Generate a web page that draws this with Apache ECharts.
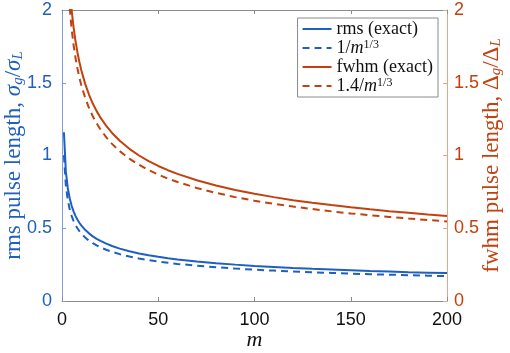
<!DOCTYPE html>
<html>
<head>
<meta charset="utf-8">
<script src="https://cdn.jsdelivr.net/npm/echarts@6/dist/echarts.min.js"></script>
<style>html,body{margin:0;padding:0;background:#fff}#c{width:510px;height:353px}</style>
</head>
<body>
<div id="c"></div>
<script>
var mValues = [1,2,3,4,5,6,7,8,9,10,12,14,16,18,20,23,26,30,35,40,45,50,55,60,70,80,90,100,110,120,130,140,150,160,170,180,190,200];
var rmsExact = [1.16,0.889,0.777,0.706,0.655,0.616,0.585,0.56,0.538,0.52,0.489,0.465,0.444,0.427,0.413,0.394,0.378,0.36,0.342,0.327,0.315,0.304,0.294,0.286,0.272,0.26,0.25,0.241,0.234,0.227,0.221,0.216,0.211,0.206,0.202,0.198,0.195,0.192];
var rmsApprox = [1.0,0.794,0.693,0.63,0.585,0.55,0.523,0.5,0.481,0.464,0.437,0.415,0.397,0.382,0.368,0.352,0.338,0.322,0.306,0.292,0.281,0.271,0.263,0.255,0.243,0.232,0.223,0.215,0.209,0.203,0.197,0.193,0.188,0.184,0.181,0.177,0.174,0.171];
var fwhmM = [4,5,6,7,8,9,10,12,14,16,18,20,23,26,30,35,40,45,50,55,60,70,80,90,100,110,120,130,140,150,160,170,180,190,200];
var fwhmExact = [2.155,2.0,1.882,1.788,1.71,1.644,1.588,1.494,1.419,1.357,1.305,1.26,1.203,1.155,1.101,1.046,1.0,0.961,0.928,0.899,0.874,0.83,0.794,0.763,0.737,0.714,0.693,0.675,0.659,0.644,0.63,0.617,0.606,0.595,0.585];
var fwhmApprox = [2.016,1.871,1.761,1.673,1.6,1.538,1.485,1.398,1.328,1.27,1.221,1.179,1.125,1.08,1.03,0.978,0.936,0.9,0.869,0.841,0.818,0.777,0.743,0.714,0.689,0.668,0.649,0.632,0.616,0.602,0.589,0.578,0.567,0.557,0.547];
var xTicks = [0,50,100,150,200];
var yTicks = [0,0.5,1,1.5,2];

var BLUE = '#1f5fbf', RED = '#c2410f';
function pairs(xs, ys){ return xs.map(function(x,i){return [x, ys[i]];}); }
var chart = echarts.init(document.getElementById('c'));
var serif = 'Liberation Serif';
var sans = 'Liberation Sans';
var TFS = 23;
chart.setOption({
  animation: false,
  grid: {left: 62, right: 63, top: 10, bottom: 52, show: false, containLabel: false, outerBoundsMode: 'none'},
  legend: {
    right: 72, top: 18,
    orient: 'vertical',
    backgroundColor: '#fff',
    borderColor: '#8a8a8a', borderWidth: 1,
    padding: [2, 5, 2, 4],
    itemWidth: 29, itemHeight: 14, itemGap: 1,
    itemStyle: {color: 'rgba(0,0,0,0)', borderWidth: 0, opacity: 0},
    textStyle: {fontFamily: serif, fontSize: 18, color: '#111', lineHeight: 16,
      rich: {
        t: {fontFamily: serif, fontSize: 18, color: '#111', lineHeight: 16},
        i: {fontFamily: serif, fontSize: 18, fontStyle: 'italic', color: '#111', lineHeight: 16},
        sup: {fontFamily: serif, fontSize: 12, color: '#111', lineHeight: 10, padding: [0,0,6,0]}
      }},
    formatter: function(n){
      if (n === 'inv') return '{t|1/}{i|m}{sup|1/3}';
      if (n === 'inv14') return '{t|1.4/}{i|m}{sup|1/3}';
      return '{t|' + n + '}';
    },
    data: ['rms (exact)', 'inv', 'fwhm (exact)', 'inv14']
  },
  xAxis: [{
    type: 'value', min: 0, max: 200, interval: 50,
    name: 'm', nameLocation: 'middle', nameGap: 28, nameMoveOverlap: false,
    nameTextStyle: {fontFamily: serif, fontStyle: 'italic', fontSize: 22, color: '#111'},
    axisLine: {show: true, onZero: false, lineStyle: {color: '#8c8c8c', width: 1}},
    axisTick: {show: true, inside: true, length: 4, lineStyle: {color: '#8c8c8c'}},
    axisLabel: {fontFamily: sans, fontSize: 18, color: '#111', margin: 10},
    splitLine: {show: false}
  }, {
    type: 'value', min: 0, max: 200, interval: 50, position: 'top',
    axisLine: {show: true, onZero: false, lineStyle: {color: '#8c8c8c', width: 1}},
    axisTick: {show: true, inside: true, length: 4, lineStyle: {color: '#8c8c8c'}},
    axisLabel: {show: false},
    splitLine: {show: false}
  }],
  yAxis: [{
    type: 'value', min: 0, max: 2, interval: 0.5, position: 'left',
    name: 'rms pulse length, {i|σ}{sub|g}{t|/}{i|σ}{sub|L}',
    nameLocation: 'middle', nameGap: 36, nameRotate: 90, nameMoveOverlap: false,
    nameTextStyle: {fontFamily: serif, fontSize: TFS, color: BLUE,
      rich: {
        t: {fontFamily: serif, fontSize: TFS, color: BLUE},
        i: {fontFamily: serif, fontSize: TFS, fontStyle: 'italic', color: BLUE},
        sub: {fontFamily: serif, fontSize: 15, fontStyle: 'italic', color: BLUE, padding: [9,0,0,0]}
      }},
    axisLine: {show: true, onZero: false, lineStyle: {color: '#7f9fd6', width: 1}},
    axisTick: {show: true, inside: true, length: 4, lineStyle: {color: '#7f9fd6'}},
    axisLabel: {fontFamily: sans, fontSize: 18, color: BLUE, margin: 10},
    splitLine: {show: false}
  }, {
    type: 'value', min: 0, max: 2, interval: 0.5, position: 'right',
    name: 'fwhm pulse length, {t|Δ}{sub|g}{t|/Δ}{sub|L}',
    nameLocation: 'middle', nameGap: 33, nameRotate: 90, nameMoveOverlap: false,
    nameTextStyle: {fontFamily: serif, fontSize: TFS, color: RED,
      rich: {
        t: {fontFamily: serif, fontSize: TFS, color: RED},
        i: {fontFamily: serif, fontSize: TFS, fontStyle: 'italic', color: RED},
        sub: {fontFamily: serif, fontSize: 15, fontStyle: 'italic', color: RED, padding: [9,0,0,0]}
      }},
    axisLine: {show: true, onZero: false, lineStyle: {color: '#e3a688', width: 1}},
    axisTick: {show: true, inside: true, length: 4, lineStyle: {color: '#e3a688'}},
    axisLabel: {fontFamily: sans, fontSize: 18, color: RED, margin: 7},
    splitLine: {show: false}
  }],
  series: [
    {name: 'rms (exact)', type: 'line', yAxisIndex: 0, data: pairs(mValues, rmsExact),
     symbol: 'none', lineStyle: {color: BLUE, width: 2}, itemStyle: {color: BLUE}},
    {name: 'inv', type: 'line', yAxisIndex: 0, data: pairs(mValues, rmsApprox),
     symbol: 'none', lineStyle: {color: BLUE, width: 2, type: [7,5]}, itemStyle: {color: BLUE}},
    {name: 'fwhm (exact)', type: 'line', yAxisIndex: 1, data: pairs(fwhmM, fwhmExact),
     symbol: 'none', clip: true, lineStyle: {color: RED, width: 2}, itemStyle: {color: RED}},
    {name: 'inv14', type: 'line', yAxisIndex: 1, data: pairs(fwhmM, fwhmApprox),
     symbol: 'none', clip: true, lineStyle: {color: RED, width: 2, type: [7,5]}, itemStyle: {color: RED}}
  ]
});
</script>
</body>
</html>
